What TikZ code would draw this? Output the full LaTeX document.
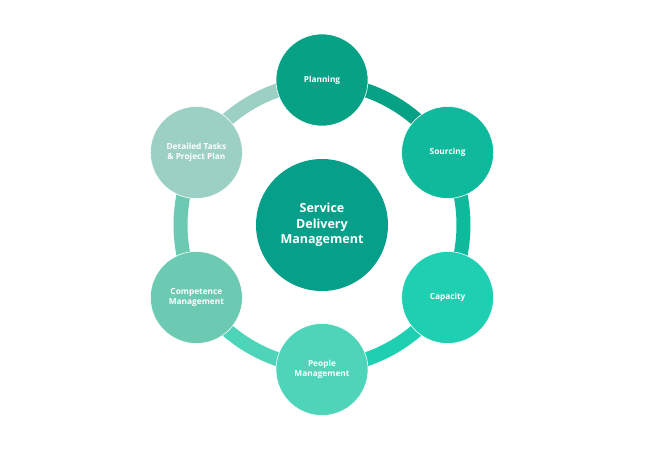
\documentclass[tikz,border=0pt]{standalone}
\usepackage{fontspec}
\setmainfont{Open Sans}
\usepackage{xcolor}
\usetikzlibrary{backgrounds}

\definecolor{hubcol}{HTML}{06A08A}
\definecolor{plancol}{HTML}{07A186}
\definecolor{sourcecol}{HTML}{0FB99B}
\definecolor{capcol}{HTML}{1ECFB2}
\definecolor{peoplecol}{HTML}{4ED5B9}
\definecolor{compcol}{HTML}{6CCAB2}
\definecolor{taskcol}{HTML}{9CD0C4}

\tikzset{
  stage/.style={circle, draw=white, line width=0.6pt, minimum size=92pt, inner sep=0pt,
    text=white, align=center, font=\fontsize{8.3}{10}\selectfont\bfseries},
  hub/.style={circle, fill=hubcol, minimum size=132pt, inner sep=0pt,
    text=white, align=center, font=\fontsize{12.5}{15.5}\selectfont\bfseries},
  ring/.style={line width=14pt, bend left=22}
}

\begin{document}
\begin{tikzpicture}[x=1pt, y=1pt]
            \useasboundingbox (0, 0) rectangle (645, -450);
            \node[hub] (hub) at (322, -225) {Service\\Delivery\\Management};
            \node[stage, fill=plancol] (planning) at (322, -80) {Planning};
            \node[stage, fill=sourcecol] (sourcing) at (447.6, -152.5) {Sourcing};
            \node[stage, fill=capcol] (capacity) at (447.6, -297.5) {Capacity};
            \node[stage, fill=peoplecol] (people) at (322, -369.5) {People\\Management};
            \node[stage, fill=compcol] (competence) at (196.4, -297.5) {Competence\\Management};
            \node[stage, fill=taskcol] (tasks) at (196.4, -152.5) {Detailed Tasks\\\& Project Plan};
            \begin{pgfonlayer}{background}
              \draw[ring, plancol] (planning.center) to (sourcing.center);
              \draw[ring, sourcecol] (sourcing.center) to (capacity.center);
              \draw[ring, capcol] (capacity.center) to (people.center);
              \draw[ring, peoplecol] (people.center) to (competence.center);
              \draw[ring, compcol] (competence.center) to (tasks.center);
              \draw[ring, taskcol] (tasks.center) to (planning.center);
            \end{pgfonlayer}
          \end{tikzpicture}
\end{document}
